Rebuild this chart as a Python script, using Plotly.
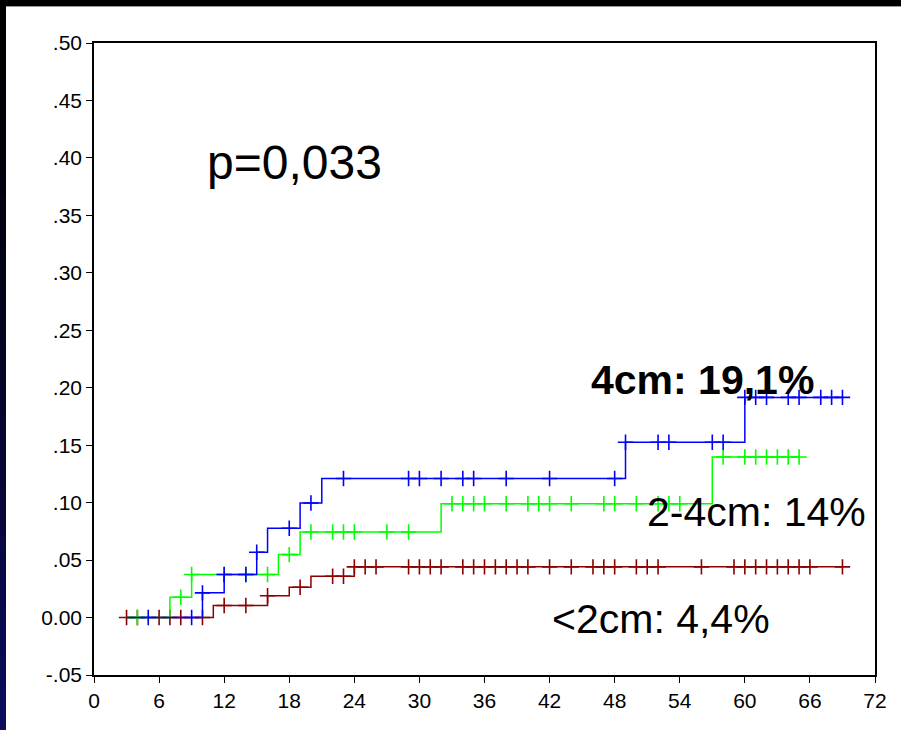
import plotly.graph_objects as go

# ---------------- data ----------------
# step curves (time in months, cumulative incidence)
blue_times = [3, 10, 12, 15, 16, 19, 21, 49, 60, 69]
blue_vals = [0, 0.0215, 0.0374, 0.0568, 0.0777, 0.0997, 0.121, 0.1525, 0.1916, 0.1916]
blue_censor = [5, 9, 10, 12, 14, 15, 18, 20, 23, 29, 30, 32, 34, 35, 38, 42, 48,
               49, 52, 53, 57, 58, 60, 61, 62, 64, 65, 67, 68, 69]

green_times = [3, 7, 9, 17, 19, 32, 57, 65]
green_vals = [0, 0.0177, 0.0374, 0.0548, 0.0745, 0.099, 0.1397, 0.1397]
green_censor = [4, 8, 9, 12, 14, 16, 18, 20, 22, 23, 24, 27, 29, 33, 34, 35, 36,
                38, 40, 41, 42, 44, 47, 48, 50, 52, 53, 54, 58, 60, 61, 62, 63, 64, 65]

red_times = [3, 11, 16, 18, 20, 24, 69]
red_vals = [0, 0.0105, 0.019, 0.0264, 0.0359, 0.0441, 0.0441]
red_censor = [3, 4, 6, 7, 8, 10, 12, 14, 16, 19, 22, 23, 24, 25, 26, 29, 30, 31,
              32, 34, 35, 36, 37, 38, 39, 40, 42, 44, 46, 47, 48, 50, 51, 52, 56,
              59, 60, 61, 62, 63, 64, 65, 66, 69]

x_ticks = [0, 6, 12, 18, 24, 30, 36, 42, 48, 54, 60, 66, 72]
y_ticks = [-0.05, 0.0, 0.05, 0.10, 0.15, 0.20, 0.25, 0.30, 0.35, 0.40, 0.45, 0.50]
y_ticktext = ['-.05', '0.00', '.05', '.10', '.15', '.20', '.25', '.30', '.35',
              '.40', '.45', '.50']

labels = ['4cm: 19,1%', '2-4cm: 14%', '<2cm: 4,4%']
p_text = 'p=0,033'

# ---------------- layout constants ----------------
W, H = 901, 730
L, R, T, B = 94, 26, 43, 55
PW, PH = W - L - R, H - T - B


def px2x(px):
    return (px - L) / PW


def py2y(py):
    return (H - B - py) / PH


def step_at(t, times, vals):
    v = vals[0]
    for ti, vi in zip(times, vals):
        if ti <= t:
            v = vi
    return v


fig = go.Figure()

series = [
    (red_times, red_vals, red_censor, '#8B0000'),
    (green_times, green_vals, green_censor, '#00FF00'),
    (blue_times, blue_vals, blue_censor, '#0000FF'),
]

for times, vals, cens, col in series:
    fig.add_trace(go.Scatter(x=times, y=vals, mode='lines',
                             line=dict(color=col, width=1.5, shape='hv'),
                             showlegend=False, hoverinfo='skip'))
    fig.add_trace(go.Scatter(x=cens, y=[step_at(t, times, vals) for t in cens],
                             mode='markers',
                             marker=dict(symbol='cross-thin', size=11,
                                         color=col, line=dict(width=1.6, color=col)),
                             showlegend=False, hoverinfo='skip'))

font_fam = 'Liberation Sans, Arial, sans-serif'

fig.add_annotation(x=18.5, y=0.396, text=p_text, showarrow=False,
                   xanchor='center', yanchor='middle',
                   font=dict(family=font_fam, size=48, color='black'))
fig.add_annotation(x=56.1, y=0.207, text='<b>' + labels[0] + '</b>', showarrow=False,
                   xanchor='center', yanchor='middle',
                   font=dict(family=font_fam, size=41, color='black'))
fig.add_annotation(x=61.1, y=0.0917, text=labels[1], showarrow=False,
                   xanchor='center', yanchor='middle',
                   font=dict(family=font_fam, size=41, color='black'))
fig.add_annotation(x=52.3, y=-0.001, text=labels[2].replace('<', '&lt;'), showarrow=False,
                   xanchor='center', yanchor='middle',
                   font=dict(family=font_fam, size=41, color='black'))

# background decorations (slide frame)
shapes = []
N = 30
for i in range(N):
    f = i / (N - 1)
    r = int(12 * f ** 1.3)
    g = int(12 * f ** 1.3)
    b = int(95 * f ** 1.3)
    shapes.append(dict(type='rect', xref='paper', yref='paper',
                       x0=px2x(0), x1=px2x(6),
                       y0=py2y(min(H, (i + 1) * H / N + 2)), y1=py2y(i * H / N),
                       fillcolor=f'rgb({r},{g},{b})', line=dict(width=0),
                       layer='below'))
shapes.append(dict(type='rect', xref='paper', yref='paper',
                   x0=px2x(0), x1=px2x(W), y0=py2y(6), y1=py2y(0),
                   fillcolor='black', line=dict(width=0), layer='below'))
shapes.append(dict(type='line', xref='paper', yref='paper',
                   x0=px2x(6), x1=px2x(W), y0=py2y(6.5), y1=py2y(6.5),
                   line=dict(color='#9a9a9a', width=1), layer='below'))
fig.update_layout(shapes=shapes)

fig.update_layout(
    width=W, height=H,
    margin=dict(l=L, r=R, t=T, b=B, pad=0),
    paper_bgcolor='white', plot_bgcolor='white',
    showlegend=False,
    xaxis=dict(range=[0, 72], tickvals=x_ticks, showgrid=False, zeroline=False,
               showline=True, linecolor='black', linewidth=1.5, mirror=True,
               ticks='outside', ticklen=6, tickcolor='black', tickwidth=1,
               tickfont=dict(family=font_fam, size=21, color='black')),
    yaxis=dict(range=[-0.05, 0.5], tickvals=y_ticks, ticktext=y_ticktext,
               showgrid=False, zeroline=False,
               showline=True, linecolor='black', linewidth=1.5, mirror=True,
               ticks='outside', ticklen=6, tickcolor='black', tickwidth=1,
               tickfont=dict(family=font_fam, size=21, color='black')),
)

fig.write_html('out.html', config={'displayModeBar': False},
               post_script="document.body.style.margin='0';"
                           "document.body.style.overflow='hidden';")
